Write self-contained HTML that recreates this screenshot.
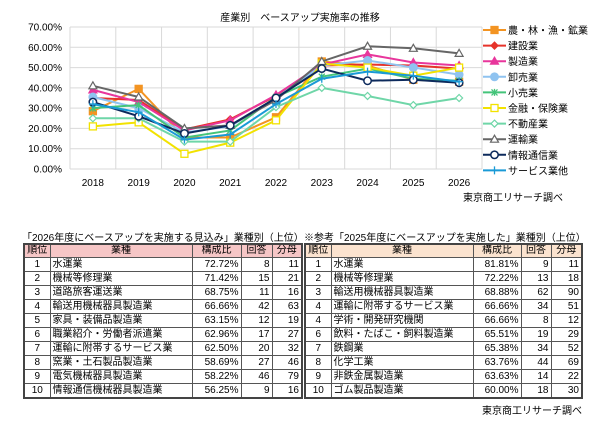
<!DOCTYPE html>
<html><head><meta charset="utf-8">
<style>
body{margin:0;width:600px;height:432px;background:#fff;font-family:"Liberation Sans","Noto Sans CJK JP",sans-serif;overflow:hidden;position:relative}
.tt{position:absolute;font-size:10px;color:#000;white-space:nowrap}
table{position:absolute;border-collapse:collapse;font-size:10px;table-layout:fixed}
td,th{border:1px solid #555;height:13px;padding:0 2px;line-height:13px;font-weight:normal;white-space:nowrap;overflow:hidden}
th{height:12px;line-height:12px}
td.c{text-align:center}td.r{text-align:right}
.tl{border:2px solid #444}
</style></head><body>
<svg id="chart" width="600" height="225" style="position:absolute;left:0;top:0"></svg>
<div class="tt" style="left:22px;top:229px">「2026年度にベースアップを実施する見込み」業種別（上位）</div>
<div class="tt" style="left:304px;top:229px">※参考「2025年度にベースアップを実施した」業種別（上位）</div>
<table id="t1" class="tl" style="left:23px;top:243px;width:278px">
<colgroup><col style="width:26px"><col style="width:142px"><col style="width:49px"><col style="width:31px"><col style="width:30px"></colgroup>
<tr style="background:#f6c6c6"><th>順位</th><th>業種</th><th>構成比</th><th>回答</th><th>分母</th></tr>
</table>
<table id="t2" class="tl" style="left:304px;top:243px;width:277px">
<colgroup><col style="width:26px"><col style="width:142px"><col style="width:48px"><col style="width:30px"><col style="width:31px"></colgroup>
<tr style="background:#fbe3cf"><th>順位</th><th>業種</th><th>構成比</th><th>回答</th><th>分母</th></tr>
</table>
<div class="tt" style="left:482px;top:402px">東京商工リサーチ調べ</div>
<script>
const years=["2018","2019","2020","2021","2022","2023","2024","2025","2026"];
const yTicks=[0,10,20,30,40,50,60,70];
const sNames=["農・林・漁・鉱業","建設業","製造業","卸売業","小売業","金融・保険業","不動産業","運輸業","情報通信業","サービス業他"];
const sColors=["#f39422","#e6332a","#e8369c","#8fc3f0","#44c47a","#f2e200","#6fd6a8","#666666","#0d2a5c","#1a9ad6"];
const sMarkers=["square","diamond","triangle","circle","star","osquare","odiamond","otriangle","ocircle","plus"];
const s0=[28.5,39.5,15.5,15.5,25.5,53,51,44,43];
const s1=[35,34,19.5,24.5,36,51,51.5,51,49.5];
const s2=[39,33,19,24,36.5,51.5,56.5,52.5,51];
const s3=[35.5,30,18,21,35,51,53.5,50,46.5];
const s4=[30,31.5,15.5,19,35.5,45.5,49.5,44.5,43.5];
const s5=[21,23,7.5,13,24,52,50,46,50];
const s6=[25,25,13.5,13.5,30.5,40,36,31.5,35];
const s7=[41,35.5,20,21.5,34,53,60.5,59.5,57];
const s8=[33,26,17.5,21.5,35,49.5,43.5,44,42.5];
const s9=[32,28,14.5,17,32,44.5,48,46,43];
const series=[s0,s1,s2,s3,s4,s5,s6,s7,s8,s9];
const left1=[["1","水運業","72.72%","8","11"],["2","機械等修理業","71.42%","15","21"],["3","道路旅客運送業","68.75%","11","16"],["4","輸送用機械器具製造業","66.66%","42","63"],["5","家具・装備品製造業","63.15%","12","19"],["6","職業紹介・労働者派遣業","62.96%","17","27"],["7","運輸に附帯するサービス業","62.50%","20","32"],["8","窯業・土石製品製造業","58.69%","27","46"],["9","電気機械器具製造業","58.22%","46","79"],["10","情報通信機械器具製造業","56.25%","9","16"]];
const right1=[["1","水運業","81.81%","9","11"],["2","機械等修理業","72.22%","13","18"],["3","輸送用機械器具製造業","68.88%","62","90"],["4","運輸に附帯するサービス業","66.66%","34","51"],["4","学術・開発研究機関","66.66%","8","12"],["6","飲料・たばこ・飼料製造業","65.51%","19","29"],["7","鉄鋼業","65.38%","34","52"],["8","化学工業","63.76%","44","69"],["9","非鉄金属製造業","63.63%","14","22"],["10","ゴム製品製造業","60.00%","18","30"]];
const NS="http://www.w3.org/2000/svg";
const svg=document.getElementById('chart');
function mk(t,a,p){const e=document.createElementNS(NS,t);for(const k in a)e.setAttribute(k,a[k]);(p||svg).appendChild(e);return e;}
const pl=70,pr=482,pt=27,pb=169;
const xs=i=>pl+(pr-pl)/years.length*(i+0.5);
const ys=v=>pb-(pb-pt)*v/70;
let t=mk('text',{x:300,y:21,'font-size':10,'text-anchor':'middle'});t.textContent='産業別　ベースアップ実施率の推移';


yTicks.forEach(v=>{const l=mk('line',{x1:pl,x2:pr,y1:ys(v),y2:ys(v),stroke:'#d9d9d9'});


const tx=mk('text',{x:pl-8,y:ys(v)+3.5,'font-size':10,'text-anchor':'end'});tx.textContent=v.toFixed(2)+'%';

});
for(let i=0;i<=years.length;i++){mk('line',{x1:pl+(pr-pl)/years.length*i,x2:pl+(pr-pl)/years.length*i,y1:pt,y2:pb,stroke:'#d9d9d9'});}
years.forEach((y,i)=>{const tx=mk('text',{x:xs(i),y:186,'font-size':10,'text-anchor':'middle'});tx.textContent=y;

});
function marker(kind,x,y,c,g){
 const fill=kind[0]==='o'?'#fff':c;const k=kind.replace(/^o/,'');
 if(k==='square')mk('rect',{x:x-3.5,y:y-3.5,width:7,height:7,fill:fill,stroke:c,'stroke-width':1.3},g);
 else if(k==='diamond')mk('path',{d:`M${x} ${y-3.5}L${x+3.5} ${y}L${x} ${y+3.5}L${x-3.5} ${y}Z`,fill:fill,stroke:c,'stroke-width':1.2},g);
 else if(k==='triangle')mk('path',{d:`M${x} ${y-4}L${x+4} ${y+3}L${x-4} ${y+3}Z`,fill:fill,stroke:c,'stroke-width':1.2},g);
 else if(k==='circle')mk('circle',{cx:x,cy:y,r:3.7,fill:fill,stroke:c,'stroke-width':1.5},g);
 else if(k==='star'){mk('path',{d:`M${x-3} ${y-3}L${x+3} ${y+3}M${x+3} ${y-3}L${x-3} ${y+3}M${x} ${y-3.5}L${x} ${y+3.5}`,stroke:c,'stroke-width':1.3},g);}
 else if(k==='plus')mk('path',{d:`M${x-4} ${y}L${x+4} ${y}M${x} ${y-4}L${x} ${y+4}`,stroke:c,'stroke-width':1.3},g);
}
series.forEach((s,si)=>{const g=mk('g',{});
 
 
 mk('polyline',{points:s.map((v,i)=>xs(i)+','+ys(v)).join(' '),fill:'none',stroke:sColors[si],'stroke-width':2},g);
 s.forEach((v,i)=>marker(sMarkers[si],xs(i),ys(v),sColors[si],g));
 const ly=30+si*15.6;const lg=mk('g',{});
 
 
 mk('line',{x1:483,x2:506,y1:ly,y2:ly,stroke:sColors[si],'stroke-width':2},lg);
 marker(sMarkers[si],494.5,ly,sColors[si],lg);
 const tx=mk('text',{x:508,y:ly+4,'font-size':10},lg);tx.textContent=sNames[si];
});
t=mk('text',{x:563,y:201,'font-size':10,'text-anchor':'end'});t.textContent='東京商工リサーチ調べ';


function fill(id,rows){const tb=document.getElementById(id).tBodies[0]||document.getElementById(id);
 rows.forEach(r=>{const tr=document.createElement('tr');
 
 
 r.forEach((c,i)=>{const td=document.createElement('td');td.textContent=c;td.className=i===0?'c':(i===1?'':'r');tr.appendChild(td);});
 tb.appendChild(tr);});}
fill('t1',left1);fill('t2',right1);
</script>
</body></html>
